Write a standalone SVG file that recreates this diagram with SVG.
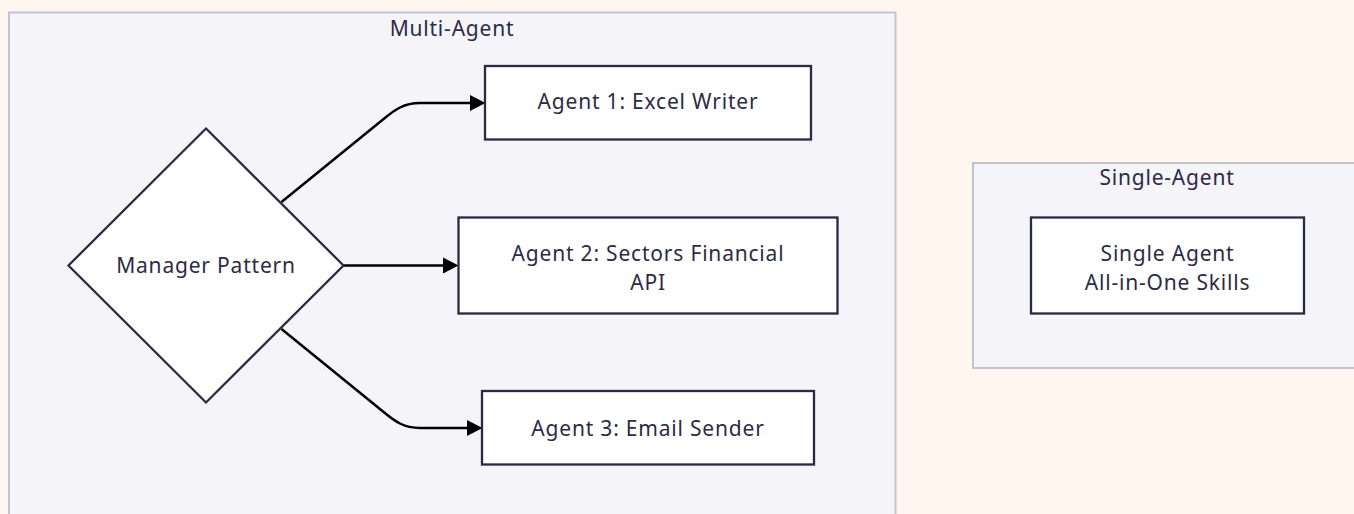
<svg xmlns="http://www.w3.org/2000/svg" width="1354" height="514" viewBox="0 0 1354 514">
  <defs>
    <marker id="arrow" markerUnits="userSpaceOnUse" markerWidth="16" markerHeight="17" viewBox="0 0 16 17" refX="3" refY="8.5" orient="auto">
      <path d="M0,0.5 L15.5,8.5 L0,16.5 z" fill="#000"/>
    </marker>
  </defs>
  <style>
    .cluster { fill: #f4f4f9; stroke: #c3c3d0; stroke-width: 2; }
    .node { fill: #ffffff; stroke: #2b2a43; stroke-width: 2.3; }
    .label { font-family: "Noto Sans", "Open Sans", sans-serif; font-size: 21px; letter-spacing: 0.8px; fill: #2d2b45; text-anchor: middle; }
    .edge { fill: none; stroke: #000; stroke-width: 2.5; marker-end: url(#arrow); }
  </style>

  <rect x="0" y="0" width="1354" height="514" fill="#fef6ef"/>

  <!-- subgraph frames -->
  <g id="cluster-multi">
    <rect class="cluster" x="9" y="12.5" width="886.5" height="520"/>
    <text class="label" x="452" y="36">Multi-Agent</text>
  </g>
  <g id="cluster-single">
    <rect class="cluster" x="973" y="163" width="400" height="205"/>
    <text class="label" x="1167" y="185">Single-Agent</text>
  </g>

  <!-- connectors -->
  <g id="edges">
    <path class="edge" d="M281.5,202 L383,119.5 C395,109.5 404,103 420,103 L473,103"/>
    <path class="edge" d="M343,265.5 L446,265.5"/>
    <path class="edge" d="M281.5,329 L383,411.5 C395,421.5 404,428 420,428 L470,428"/>
  </g>

  <!-- nodes -->
  <g id="manager">
    <polygon class="node" points="206,128.5 343.5,265.5 206,402.5 68.5,265.5"/>
    <text class="label" x="206" y="273">Manager Pattern</text>
  </g>
  <g id="agent1">
    <rect class="node" x="485" y="66" width="326" height="73.5"/>
    <text class="label" x="648" y="109">Agent 1: Excel Writer</text>
  </g>
  <g id="agent2">
    <rect class="node" x="458.5" y="217.5" width="379" height="96"/>
    <text class="label" x="648" y="260.5">Agent 2: Sectors Financial</text>
    <text class="label" x="648" y="289.5">API</text>
  </g>
  <g id="agent3">
    <rect class="node" x="482" y="391" width="332" height="73.5"/>
    <text class="label" x="648" y="436">Agent 3: Email Sender</text>
  </g>
  <g id="single">
    <rect class="node" x="1031" y="217.5" width="273" height="96"/>
    <text class="label" x="1167.5" y="260.5">Single Agent</text>
    <text class="label" x="1167.5" y="289.5">All-in-One Skills</text>
  </g>
</svg>
